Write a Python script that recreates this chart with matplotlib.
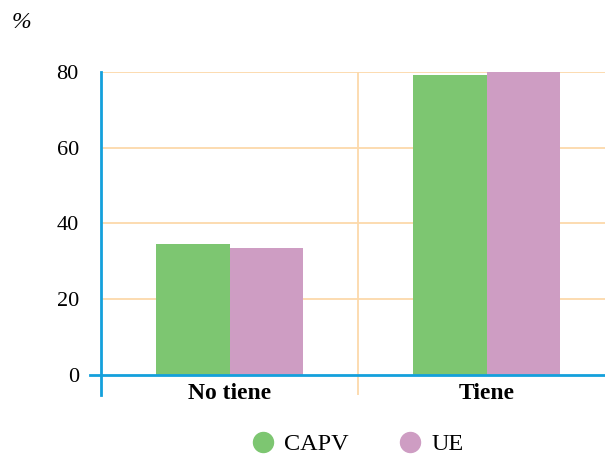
import matplotlib
matplotlib.use("Agg")
import matplotlib.pyplot as plt
from matplotlib.lines import Line2D
import numpy as np

categories = ["No tiene", "Tiene"]
series_names = ["CAPV", "UE"]
capv = [34.7, 79.2]
ue = [33.6, 80.0]
yticks = [0, 20, 40, 60, 80]

green = "#7dc671"
pink = "#ce9dc3"
blue = "#14a0dc"
grid_c = "#fcd9aa"

plt.rcParams["font.family"] = ["Liberation Serif", "DejaVu Serif"]

fig = plt.figure(figsize=(6.05, 4.55), dpi=100)
ax = fig.add_axes([101 / 605, 1 - 395 / 455, 514 / 605, 323 / 455])

x = np.arange(len(categories))
w = 0.286
ax.bar(x - w / 2, capv, width=w, color=green, zorder=3)
ax.bar(x + w / 2, ue, width=w, color=pink, zorder=3)

ax.set_xlim(-0.5, 1.5)
ax.set_ylim(-5.3, 80)

# grid
for v in yticks[1:]:
    ax.axhline(v, color=grid_c, lw=1.3, zorder=1)
for i in range(len(categories) - 1):
    ax.axvline(i + 0.5, color=grid_c, lw=1.3, zorder=1)

# zero line sticking out to the left of the spine
ax.plot([-0.022, 1], [0, 0], transform=ax.get_yaxis_transform(),
        color=blue, lw=2, clip_on=False, zorder=4)

for s in ["top", "right", "bottom"]:
    ax.spines[s].set_visible(False)
ax.spines["left"].set_color(blue)
ax.spines["left"].set_linewidth(2)

ax.set_yticks(yticks)
ax.set_yticklabels([str(v) for v in yticks], fontsize=16)
ax.tick_params(axis="y", length=0, pad=16)
ax.set_xticks([])

for i, c in enumerate(categories):
    ax.text(i, -4.9, c, ha="center", va="center", fontsize=17,
            fontweight="bold")

fig.text(21 / 605, 1 - 23 / 455, "%", fontsize=17, style="italic",
         ha="center", va="center")

handles = [Line2D([], [], marker="o", ls="", markersize=14.4,
                  markerfacecolor=c, markeredgecolor=c)
           for c in (green, pink)]
leg = fig.legend(handles, series_names, loc="center",
                 bbox_to_anchor=(358 / 605, 1 - 444 / 455), ncol=2,
                 frameon=False, prop={"size": 17.5},
                 columnspacing=2.1, handletextpad=0.45, handlelength=0.85,
                 borderpad=0, borderaxespad=0)

fig.savefig("out.png", dpi=100)
